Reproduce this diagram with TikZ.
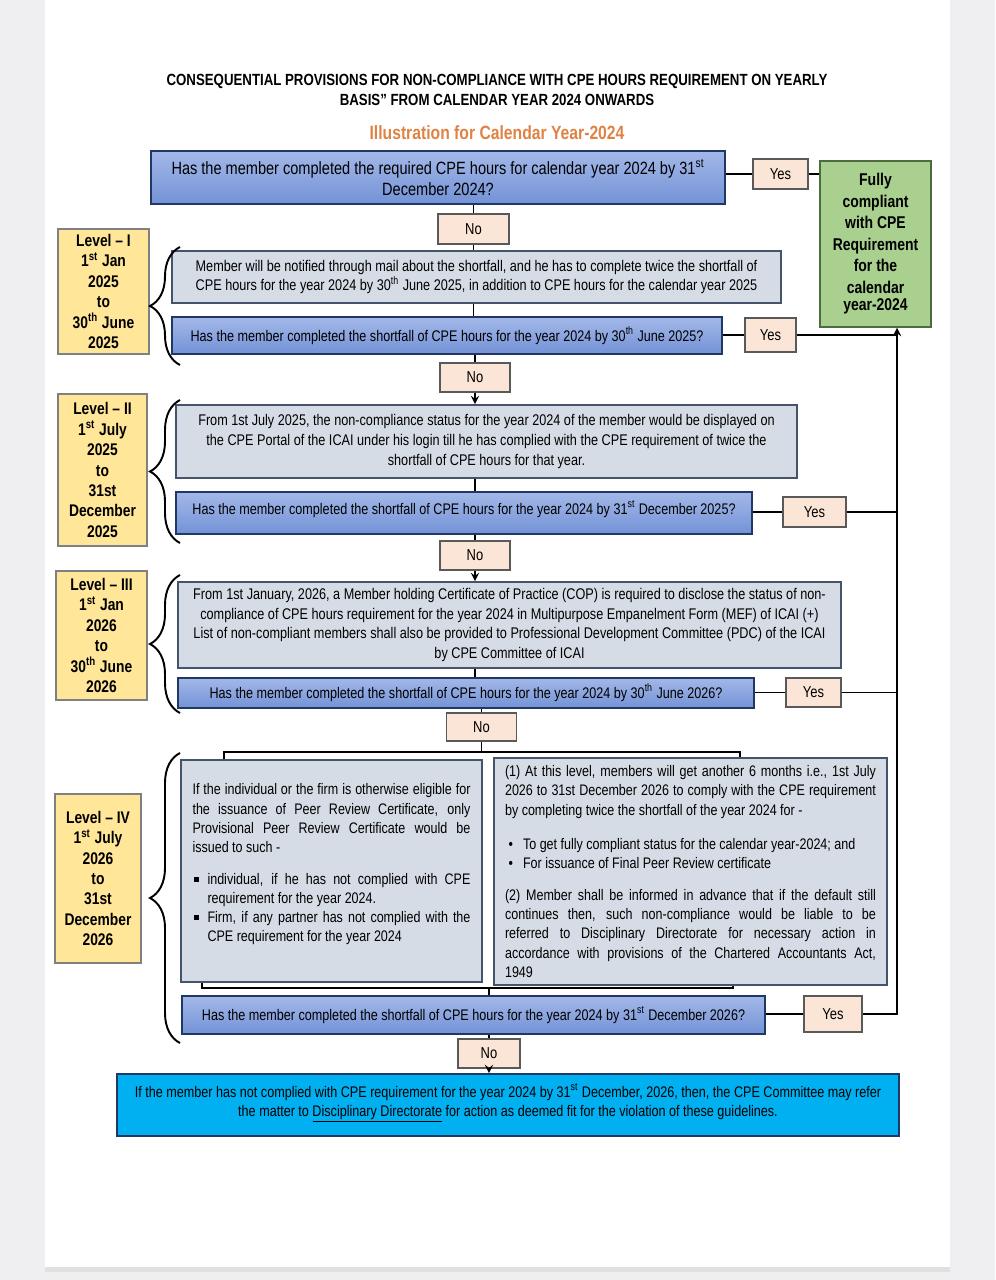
\documentclass[tikz,border=0pt]{standalone}
\usepackage{fontspec}
\setmainfont[FakeStretch=0.82]{Liberation Sans}
\usepackage{enumitem}
\usetikzlibrary{shapes,arrows,positioning,calc,decorations.pathreplacing}

\definecolor{pagegray}{HTML}{EFEEF0}
\definecolor{qtop}{HTML}{A3B8E8}
\definecolor{qbot}{HTML}{7392D6}
\definecolor{qborder}{HTML}{1F3864}
\definecolor{notefill}{HTML}{D6DCE5}
\definecolor{noteborder}{HTML}{44546A}
\definecolor{tagfill}{HTML}{FBE5D6}
\definecolor{levelfill}{HTML}{FFE699}
\definecolor{okfill}{HTML}{A9D08E}
\definecolor{okborder}{HTML}{4E6B3E}
\definecolor{endfill}{HTML}{00B0F0}
\definecolor{subtitle}{RGB}{222,131,68}

\newcommand{\titlefont}{\fontsize{9.2}{11.4}\selectfont\bfseries}
\newcommand{\askfont}{\fontsize{8.75}{11.2}\selectfont}
\newcommand{\notefont}{\fontsize{8.8}{11.2}\selectfont}
\newcommand{\levelfont}{\fontsize{9.6}{11.6}\selectfont\bfseries}
\newcommand{\optfont}{\fontsize{8.7}{10.9}\selectfont\hyphenpenalty=10000}

\begin{document}
\begin{tikzpicture}[x=0.02cm, y=-0.02cm,
    question/.style={rectangle, draw=qborder, line width=1.4pt, top color=qtop, bottom color=qbot, align=center, font=\askfont, inner sep=1pt},
    note/.style={rectangle, draw=noteborder, line width=0.9pt, fill=notefill, align=center, font=\notefont, inner sep=1pt},
    tag/.style={rectangle, draw=black!65, line width=0.8pt, fill=tagfill, font=\fontsize{9}{11}\selectfont, minimum width=1.4cm, minimum height=0.6cm, inner sep=0pt},
    level/.style={rectangle, draw=black!50, line width=0.8pt, fill=levelfill, align=center, font=\levelfont, inner sep=0pt},
    line/.style={line width=1.1pt},
    arrow/.style={line width=1.1pt, ->, >=stealth},
    brace/.style={decorate, decoration={brace, amplitude=0.6cm}, line width=1.1pt}
]

% Page
\useasboundingbox (0,0) rectangle (995,1280);
\fill[pagegray] (0,0) rectangle (995,1280);
\fill[black!12] (45,1266) rectangle (950,1272);
\fill[white] (45,0) rectangle (950,1267);

% Headings
\node[font=\titlefont, align=center] (title) at (497,90) {CONSEQUENTIAL PROVISIONS FOR NON-COMPLIANCE WITH CPE HOURS REQUIREMENT ON YEARLY\\ BASIS'' FROM CALENDAR YEAR 2024 ONWARDS};
\node[font=\fontsize{10.9}{12}\selectfont\bfseries, text=subtitle] (illus) at (497,133) {Illustration for Calendar Year-2024};

% Calendar year 2024
\node[question, minimum width=11.48cm, minimum height=1.06cm, font=\fontsize{10.1}{11.9}\selectfont] (q0) at (438,177.5) {Has the member completed the required CPE hours for calendar year 2024 by 31\textsuperscript{st}\\ December 2024?};
\node[tag, minimum width=1.1cm] (yes0) at (780.5,174) {Yes};
\node[rectangle, draw=okborder, line width=0.9pt, fill=okfill, minimum width=2.22cm, minimum height=3.32cm, align=center, font=\fontsize{9.7}{12.2}\selectfont\bfseries] (comply) at (875.5,244) {Fully\\ compliant\\ with CPE\\ Requirement\\ for the\\ calendar\\[-2pt] year-2024};
\node[tag, minimum width=1.42cm] (no0) at (473.5,229) {No};

% Level I
\node[level, minimum width=1.82cm, minimum height=2.5cm] (lev1) at (103.5,291.5) {Level -- I\\ 1\textsuperscript{st} Jan\\ 2025\\ to\\ 30\textsuperscript{th} June\\ 2025};
\node[note, minimum width=12.18cm, minimum height=1.04cm] (note1) at (476.5,277) {Member will be notified through mail about the shortfall, and he has to complete twice the shortfall of\\ CPE hours for the year 2024 by 30\textsuperscript{th} June 2025, in addition to CPE hours for the calendar year 2025};
\node[question, minimum width=11cm, minimum height=0.74cm] (q1) at (447,335.5) {Has the member completed the shortfall of CPE hours for the year 2024 by 30\textsuperscript{th} June 2025?};
\node[tag, minimum width=1.02cm, minimum height=0.68cm] (yes1) at (770.5,335) {Yes};
\node[tag, minimum height=0.58cm] (no1) at (475,377.5) {No};

% Level II
\node[level, minimum width=1.78cm, minimum height=3.04cm] (lev2) at (102.5,470) {Level -- II\\ 1\textsuperscript{st} July\\ 2025\\ to\\ 31st\\ December\\ 2025};
\node[note, minimum width=12.42cm, minimum height=1.46cm] (note2) at (486.5,441.5) {From 1st July 2025, the non-compliance status for the year 2024 of the member would be displayed on\\ the CPE Portal of the ICAI under his login till he has complied with the CPE requirement of twice the\\ shortfall of CPE hours for that year.};
\node[question, minimum width=11.52cm, minimum height=0.84cm] (q2) at (464,513) {Has the member completed the shortfall of CPE hours for the year 2024 by 31\textsuperscript{st} December 2025?\\[-5pt]\mbox{}};
\node[tag, minimum width=1.26cm] (yes2) at (814.5,512) {Yes};
\node[tag, minimum height=0.58cm] (no2) at (475,555.5) {No};

% Level III
\node[level, minimum width=1.82cm, minimum height=2.58cm] (lev3) at (101.5,635.5) {Level -- III\\ 1\textsuperscript{st} Jan\\ 2026\\ to\\ 30\textsuperscript{th} June\\ 2026};
\node[note, minimum width=13.26cm, minimum height=1.72cm] (note3) at (509.5,625) {From 1st January, 2026, a Member holding Certificate of Practice (COP) is required to disclose the status of non-\\ compliance of CPE hours requirement for the year 2024 in Multipurpose Empanelment Form (MEF) of ICAI (+)\\ List of non-compliant members shall also be provided to Professional Development Committee (PDC) of the ICAI\\ by CPE Committee of ICAI};
\node[question, minimum width=11.52cm, minimum height=0.6cm] (q3) at (466,693) {Has the member completed the shortfall of CPE hours for the year 2024 by 30\textsuperscript{th} June 2026?};
\node[tag, minimum width=1.1cm, minimum height=0.58cm] (yes3) at (813.5,692.5) {Yes};
\node[tag, minimum height=0.56cm] (no3) at (481.5,727) {No};

% Level IV
\node[level, minimum width=1.72cm, minimum height=3.38cm] (lev4) at (98,878.5) {Level -- IV\\ 1\textsuperscript{st} July\\ 2026\\ to\\ 31st\\ December\\ 2026};
\node[note, minimum width=6.02cm, minimum height=4.44cm, text width=5.56cm, align=justify, font=\optfont] (opt1) at (331.5,871) {%
If the individual or the firm is otherwise eligible for\linebreak the issuance of Peer Review Certificate, only\linebreak Provisional Peer Review Certificate would be\linebreak issued to such -
\begin{itemize}[leftmargin=0.3cm, labelsep=0.17cm, label={\raisebox{1.5pt}{\rule{3pt}{3pt}}}, topsep=7.4pt, itemsep=0pt, parsep=0pt, partopsep=0pt]
\item individual, if he has not complied with CPE\linebreak requirement for the year 2024.
\item Firm, if any partner has not complied with the\linebreak CPE requirement for the year 2024
\end{itemize}\vspace{0.7cm}};
\node[note, minimum width=7.86cm, minimum height=4.54cm, text width=7.42cm, align=justify, font=\optfont] (opt2) at (690.5,871.5) {%
(1) At this level, members will get another 6 months i.e., 1st July\linebreak 2026 to 31st December 2026 to comply with the CPE requirement\linebreak by completing twice the shortfall of the year 2024 for -
\begin{itemize}[leftmargin=0.36cm, labelsep=0.2cm, label={\textbullet}, topsep=8.5pt, itemsep=0pt, parsep=0pt, partopsep=0pt]
\item To get fully compliant status for the calendar year-2024; and
\item For issuance of Final Peer Review certificate
\end{itemize}
\vspace{-1pt}
(2) Member shall be informed in advance that if the default still\linebreak continues then, such non-compliance would be liable to be\linebreak referred to Disciplinary Directorate for necessary action in\linebreak accordance with provisions of the Chartered Accountants Act,\linebreak 1949};
\node[question, minimum width=11.66cm, minimum height=0.76cm] (q4) at (473.5,1015) {Has the member completed the shortfall of CPE hours for the year 2024 by 31\textsuperscript{st} December 2026?};
\node[tag, minimum width=1.16cm, minimum height=0.72cm] (yes4) at (833,1014) {Yes};
\node[tag, minimum width=1.24cm, minimum height=0.58cm] (no4) at (489,1053.5) {No};

% Referral
\node[rectangle, draw=qborder, line width=0.9pt, fill=endfill, minimum width=15.64cm, minimum height=1.24cm, align=center, font=\fontsize{8.75}{10.8}\selectfont] (refer) at (508,1105) {If the member has not complied with CPE requirement for the year 2024 by 31\textsuperscript{st} December, 2026, then, the CPE Committee may refer\\ the matter to \underline{Disciplinary Directorate} for action as deemed fit for the violation of these guidelines.\\[-4.8pt]\mbox{}};

% Braces
\draw[brace] (180,365) -- (180,247);
\draw[brace] (180,543) -- (180,400);
\draw[brace] (180,713) -- (180,575);
\draw[brace] (180,1043) -- (180,753);

% Rail and joints
\coordinate (rail) at (897,1017);
\coordinate (splitl) at (224,752);
\coordinate (splitr) at (740,752);
\coordinate (joinl) at (202,988);
\coordinate (joinr) at (733,988);

% No path
\draw[line] (q0.south -| no0) -- (no0);
\draw[line] (no0) -- (no0 |- note1.north);
\draw[line] (note1.south -| no0) -- (q1.north -| no0);
\draw[line] (q1.south -| no1) -- (no1);
\draw[arrow] (no1) -- (no1 |- note2.north);
\draw[line] (note2.south -| no2) -- (q2.north -| no2);
\draw[line] (q2.south -| no2) -- (no2);
\draw[arrow] (no2) -- (no2 |- note3.north);
\draw[line] (note3.south -| no2) -- (q3.north -| no2);
\draw[line] (q3.south -| no3) -- (no3);
\draw[line] (no3) -- (no3 |- splitl);
\draw[line] (splitl |- opt1.north) -- (splitl) -- (splitr) -- (splitr |- opt2.north);
\draw[line] (joinl |- opt1.south) -- (joinl) -- (joinr) -- (joinr |- opt2.south);
\draw[line] (joinl -| no4) -- (q4.north -| no4);
\draw[line] (q4.south -| no4) -- (no4);
\draw[arrow] (no4) -- (no4 |- refer.north);

% Yes path
\draw[line] (q0.east |- yes0) -- (yes0);
\draw[line] (yes0.east) -- (yes0.east -| comply.west);
\draw[line] (q1.east |- yes1) -- (yes1);
\draw[line] (yes1.east) -- (yes1.east -| rail);
\draw[line] (q2.east |- yes2) -- (yes2);
\draw[line] (yes2.east) -- (yes2.east -| rail);
\draw[line] (q3.east |- yes3) -- (yes3);
\draw[line] (yes3.east) -- (yes3.east -| rail);
\draw[line] (q4.east |- yes4) -- (yes4);
\draw[arrow] (yes4.east) -| (comply.south -| rail);

\end{tikzpicture}
\end{document}
